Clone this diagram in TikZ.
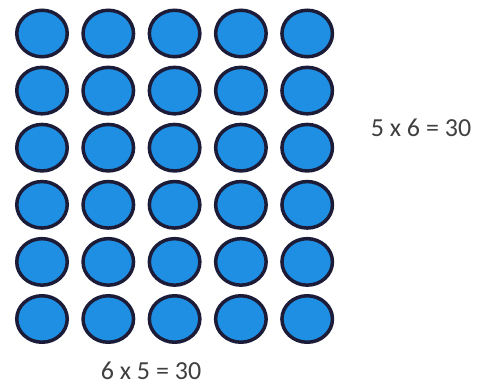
\documentclass[tikz,border=0pt]{standalone}
\usepackage{fontspec}
\setmainfont{Carlito}
\usetikzlibrary{shapes.geometric}
\definecolor{cntblue}{HTML}{1E8FE2}
\definecolor{cntedge}{HTML}{1C1C38}
\definecolor{txtgray}{HTML}{404040}
\tikzset{
  counter/.style={ellipse, draw=cntedge, line width=3.5pt, fill=cntblue,
    minimum width=50.5pt, minimum height=46.5pt, inner sep=0pt},
  eqn/.style={text=txtgray, font=\fontsize{26}{30}\selectfont, inner sep=0pt}
}
\begin{document}
\begin{tikzpicture}[x=1pt,y=-1pt]
\useasboundingbox (0,0) rectangle (479,385);
\foreach \r in {1,...,6}{
  \foreach \c in {1,...,5}{
    \node[counter] (c\r\c) at ({42+(\c-1)*66.3},{33.5+(\r-1)*57.1}) {};
  }
}
\node[eqn] (rowtxt) at (421,128) {5 x 6 = 30};
\node[eqn] (coltxt) at (151,371) {6 x 5 = 30};
\end{tikzpicture}
\end{document}
